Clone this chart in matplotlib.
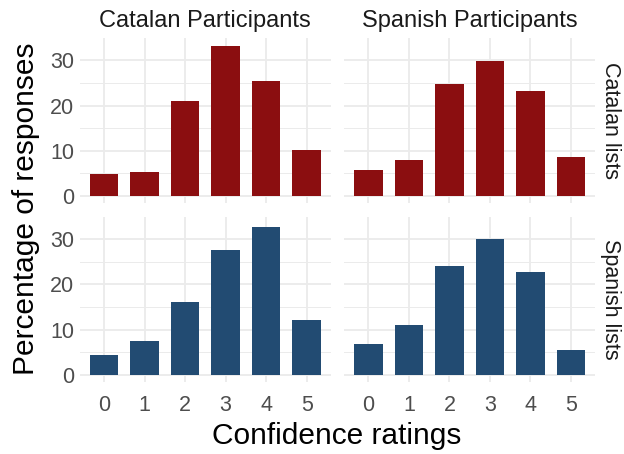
import matplotlib.pyplot as plt
import numpy as np

plt.rcParams['font.family'] = ['Liberation Sans', 'DejaVu Sans']

# confidence ratings 0..5, percentage of responses
ratings = [0, 1, 2, 3, 4, 5]
cat_part_cat_lists = [4.8, 5.2, 21.0, 33.3, 25.5, 10.2]
spa_part_cat_lists = [5.7, 8.0, 24.7, 29.8, 23.3, 8.6]
cat_part_spa_lists = [4.4, 7.4, 16.0, 27.5, 32.6, 12.0]
spa_part_spa_lists = [6.7, 11.0, 24.0, 30.0, 22.8, 5.4]

col_titles = ['Catalan Participants', 'Spanish Participants']
row_titles = ['Catalan lists', 'Spanish lists']
row_colors = ['#8B0E10', '#224B72']

data = [[cat_part_cat_lists, spa_part_cat_lists],
        [cat_part_spa_lists, spa_part_spa_lists]]

fig = plt.figure(figsize=(6.24, 4.54), dpi=100)

# panel positions in figure fraction
lefts = [0.1277, 0.5513]
width = 0.4027
bottoms = [0.5518, 0.1581]
height = 0.3645

ymax = max(max(max(v) for v in row) for row in data)
ylim = (-0.05 * ymax, ymax * 1.05)

for r in range(2):
    for c in range(2):
        ax = fig.add_axes([lefts[c], bottoms[r], width, height])
        ax.set_axisbelow(True)
        ax.bar(ratings, data[r][c], width=0.7, color=row_colors[r], zorder=3)
        ax.set_xlim(-0.6, 5.6)
        ax.set_ylim(*ylim)
        ax.set_yticks([0, 10, 20, 30])
        ax.set_yticks([5, 15, 25], minor=True)
        ax.set_xticks(ratings)
        ax.grid(which='major', color='#EBEBEB', linewidth=1.3)
        ax.grid(which='minor', axis='y', color='#EBEBEB', linewidth=0.7)
        for s in ax.spines.values():
            s.set_visible(False)
        ax.tick_params(which='both', length=0, labelsize=15.5, labelcolor='#4D4D4D')
        ax.tick_params(axis='x', pad=9)
        ax.tick_params(axis='y', pad=4)
        if c == 1:
            ax.set_yticklabels([])
        if r == 0:
            ax.set_xticklabels([])
            ax.set_title(col_titles[c], fontsize=17, color='#1A1A1A', pad=8)
        if c == 1:
            ax.text(1.02, 0.5, row_titles[r], transform=ax.transAxes, rotation=270,
                    va='center', ha='left', fontsize=15.5, color='#1A1A1A')

fig.text(0.54, 0.04, 'Confidence ratings', ha='center', va='center', fontsize=21.5)
fig.text(0.042, 0.54, 'Percentage of responses', ha='center', va='center',
         rotation=90, fontsize=21.5)

fig.savefig('out.png', dpi=100)
